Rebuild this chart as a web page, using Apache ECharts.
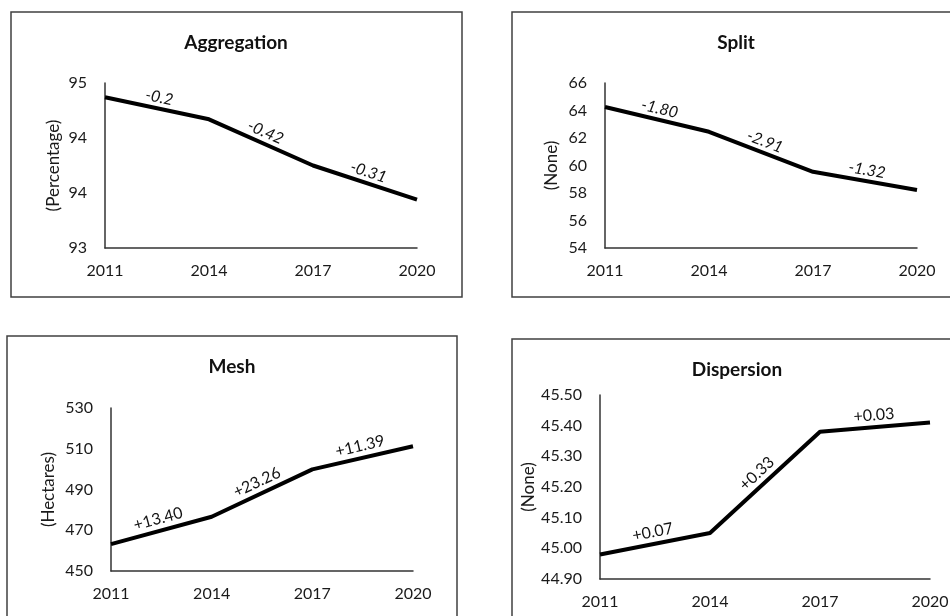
<!DOCTYPE html>
<html>
<head>
<meta charset="utf-8">
<script src="https://cdn.jsdelivr.net/npm/echarts@6/dist/echarts.min.js"></script>
<style>
  html, body { margin: 0; padding: 0; background: #fff; }
  #main { width: 950px; height: 616px; }
</style>
</head>
<body>
<div id="main"></div>
<script>
var years = ['2011', '2014', '2017', '2020'];

// values
var aggregation = [94.67, 94.47, 94.05, 93.74];
var split = [64.25, 62.45, 59.54, 58.22];
var mesh = [463.2, 476.6, 499.86, 511.25];
var dispersion = [44.98, 45.05, 45.38, 45.41];

// change labels written along each segment
var aggChanges = ['-0.2', '-0.42', '-0.31'];
var splitChanges = ['-1.80', '-2.91', '-1.32'];
var meshChanges = ['+13.40', '+23.26', '+11.39'];
var dispChanges = ['+0.07', '+0.33', '+0.03'];

var titles = ['Aggregation', 'Split', 'Mesh', 'Dispersion'];
var units = ['(Percentage)', '(None)', '(Hectares)', '(None)'];

var FONT = 'Lato, "Open Sans", sans-serif';
var chart = echarts.init(document.getElementById('main'));

function xAxisFor(i) {
    return {
        type: 'category',
        gridIndex: i,
        data: years,
        boundaryGap: false,
        axisTick: {show: false},
        axisLine: {show: true, lineStyle: {color: '#333', width: 1.5}},
        axisLabel: {interval: 0, fontSize: 16, fontFamily: FONT, color: '#1a1a1a', margin: 15},
        splitLine: {show: false}
    };
}

function yAxisFor(i, min, max, interval, gap, fmt) {
    return {
        type: 'value',
        gridIndex: i,
        min: min,
        max: max,
        interval: interval,
        name: units[i],
        nameLocation: 'middle',
        nameRotate: 90,
        nameGap: gap,
        nameTextStyle: {fontSize: 17, fontFamily: FONT, color: '#1a1a1a'},
        axisLine: {show: true, lineStyle: {color: '#333', width: 1.5}},
        axisTick: {show: false},
        splitLine: {show: false},
        axisLabel: {fontSize: 16, fontFamily: FONT, color: '#1a1a1a', margin: 18, formatter: fmt}
    };
}

function lineFor(i, vals) {
    return {
        type: 'line',
        xAxisIndex: i,
        yAxisIndex: i,
        data: vals,
        symbol: 'none',
        silent: true,
        lineStyle: {color: '#000', width: 4},
        z: 3
    };
}

// text along each segment, placed through the axis scales
function changeLabels(i, vals, texts, italic, off) {
    return {
        type: 'custom',
        xAxisIndex: i,
        yAxisIndex: i,
        data: texts.map(function (t, k) { return [k, vals[k]]; }),
        silent: true,
        z: 4,
        renderItem: function (params, api) {
            var k = params.dataIndex;
            var p0 = api.coord([k, vals[k]]);
            var p1 = api.coord([k + 1, vals[k + 1]]);
            var dx = p1[0] - p0[0], dy = p1[1] - p0[1];
            var len = Math.sqrt(dx * dx + dy * dy);
            var cx = (p0[0] + p1[0]) / 2 + dy / len * off;
            var cy = (p0[1] + p1[1]) / 2 - dx / len * off;
            return {
                type: 'text',
                x: cx,
                y: cy,
                rotation: -Math.atan2(dy, dx),
                style: {
                    text: texts[k],
                    align: 'center',
                    verticalAlign: 'middle',
                    fontSize: 16,
                    fontFamily: FONT,
                    fontStyle: italic ? 'italic' : 'normal',
                    fill: '#111'
                }
            };
        }
    };
}

var borders = [
    [11, 12, 451, 285],
    [512, 12, 460, 285],
    [7, 336, 450, 300],
    [512, 339, 460, 300]
];
var titlePos = [[236, 43], [736, 43], [232, 367], [737, 370]];

var graphics = [];
borders.forEach(function (b) {
    graphics.push({
        type: 'rect',
        shape: {x: b[0], y: b[1], width: b[2], height: b[3]},
        style: {fill: 'none', stroke: '#404040', lineWidth: 1.5},
        silent: true
    });
});
titlePos.forEach(function (p, i) {
    graphics.push({
        type: 'text',
        x: p[0],
        y: p[1],
        style: {
            text: titles[i],
            align: 'center',
            verticalAlign: 'middle',
            fontSize: 19,
            fontWeight: 'bold',
            fontFamily: FONT,
            fill: '#111'
        },
        silent: true
    });
});

var option = {
    animation: false,
    backgroundColor: '#fff',
    graphic: graphics,
    grid: [
        {left: 105, top: 83, width: 312, height: 165, outerBoundsMode: 'none'},
        {left: 605, top: 83, width: 312, height: 165, outerBoundsMode: 'none'},
        {left: 111, top: 408, width: 302, height: 163, outerBoundsMode: 'none'},
        {left: 600, top: 395, width: 330, height: 184, outerBoundsMode: 'none'}
    ],
    xAxis: [xAxisFor(0), xAxisFor(1), xAxisFor(2), xAxisFor(3)],
    yAxis: [
        yAxisFor(0, 93.3, 94.8, 0.1, 43, function (v) {
            var k = Math.round((v - 93.3) * 10);
            return k % 5 === 0 ? String(Math.round(v)) : '';
        }),
        yAxisFor(1, 54, 66, 2, 45, function (v) { return String(v); }),
        yAxisFor(2, 450, 530, 10, 54, function (v) {
            return Math.round(v - 450) % 20 === 0 ? String(v) : '';
        }),
        yAxisFor(3, 44.9, 45.5, 0.1, 63, function (v) { return v.toFixed(2); })
    ],
    series: [
        lineFor(0, aggregation),
        lineFor(1, split),
        lineFor(2, mesh),
        lineFor(3, dispersion),
        changeLabels(0, aggregation, aggChanges, true, 11),
        changeLabels(1, split, splitChanges, true, 11),
        changeLabels(2, mesh, meshChanges, false, 12),
        changeLabels(3, dispersion, dispChanges, false, 12)
    ]
};

chart.setOption(option);
</script>
</body>
</html>
